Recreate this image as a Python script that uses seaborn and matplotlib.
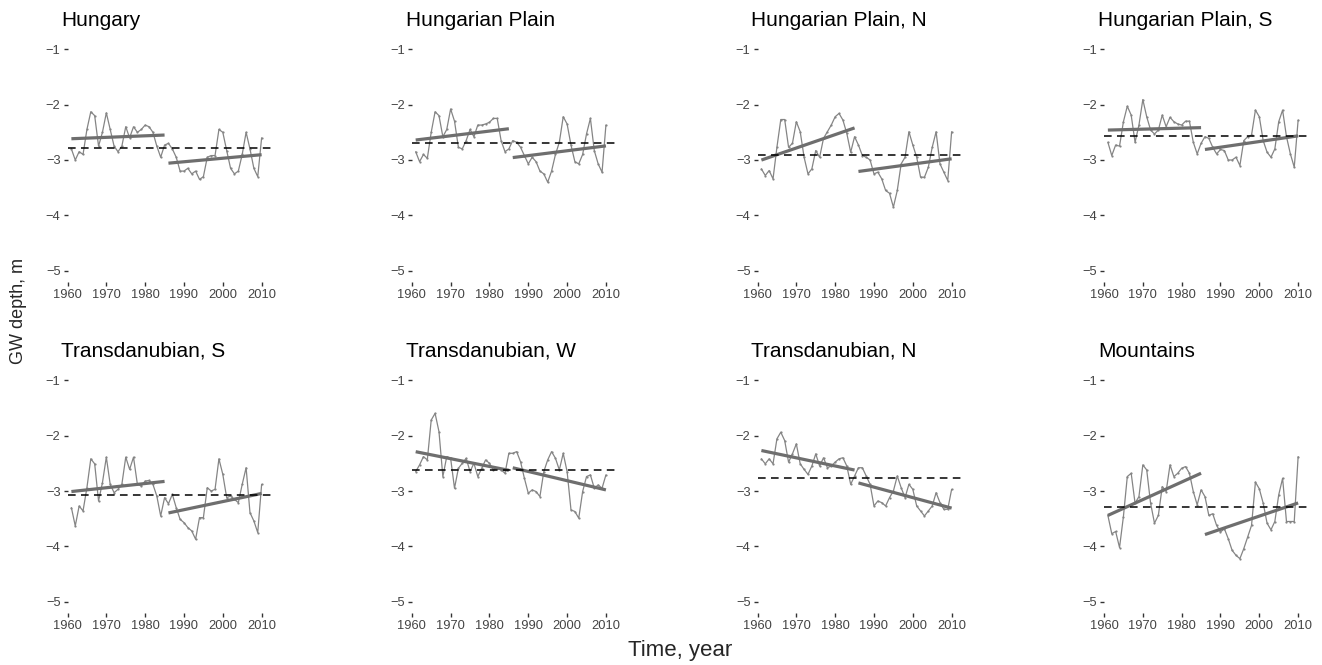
import matplotlib
matplotlib.use("Agg")
import matplotlib.pyplot as plt
import numpy as np
import pandas as pd
import seaborn as sns

# ---------------- data ----------------
years = list(range(1961, 2011))

regions = ["Hungary", "Hungarian Plain", "Hungarian Plain, N", "Hungarian Plain, S",
           "Transdanubian, S", "Transdanubian, W", "Transdanubian, N", "Mountains"]

hungary = [-2.80, -3.00, -2.85, -2.90, -2.45, -2.13, -2.20, -2.75, -2.50, -2.15,
           -2.45, -2.75, -2.85, -2.75, -2.40, -2.60, -2.40, -2.50, -2.45, -2.37,
           -2.40, -2.50, -2.75, -2.95, -2.73, -2.70, -2.80, -2.95, -3.20, -3.20,
           -3.15, -3.25, -3.20, -3.35, -3.30, -2.95, -2.92, -2.92, -2.45, -2.50,
           -2.83, -3.15, -3.25, -3.20, -2.90, -2.50, -2.80, -3.15, -3.30, -2.60]

hungarian_plain = [-2.85, -3.03, -2.90, -2.97, -2.50, -2.13, -2.20, -2.58, -2.45, -2.08,
                   -2.30, -2.77, -2.80, -2.65, -2.45, -2.58, -2.37, -2.37, -2.35, -2.32,
                   -2.25, -2.25, -2.65, -2.85, -2.80, -2.65, -2.68, -2.77, -2.92, -3.07,
                   -2.95, -3.03, -3.20, -3.25, -3.40, -3.20, -2.90, -2.68, -2.22, -2.35,
                   -2.73, -3.03, -3.07, -2.90, -2.53, -2.25, -2.83, -3.07, -3.22, -2.37]

hungarian_plain_n = [-3.16, -3.28, -3.19, -3.34, -2.77, -2.27, -2.27, -2.77, -2.70, -2.31,
                     -2.49, -2.95, -3.25, -3.16, -2.83, -2.95, -2.61, -2.49, -2.37, -2.22,
                     -2.16, -2.28, -2.52, -2.86, -2.58, -2.73, -2.92, -2.95, -3.00, -3.25,
                     -3.22, -3.34, -3.55, -3.60, -3.85, -3.55, -3.07, -2.95, -2.49, -2.73,
                     -2.95, -3.31, -3.31, -3.13, -2.77, -2.49, -3.07, -3.22, -3.37, -2.49]

hungarian_plain_s = [-2.68, -2.92, -2.73, -2.75, -2.31, -2.03, -2.19, -2.68, -2.37, -1.91,
                     -2.22, -2.46, -2.53, -2.46, -2.19, -2.40, -2.23, -2.31, -2.35, -2.37,
                     -2.30, -2.30, -2.68, -2.89, -2.70, -2.58, -2.61, -2.77, -2.89, -2.81,
                     -2.83, -3.00, -3.00, -2.95, -3.10, -2.65, -2.58, -2.55, -2.10, -2.22,
                     -2.65, -2.86, -2.95, -2.80, -2.31, -2.10, -2.58, -2.89, -3.13, -2.28]

transdanubian_s = [-3.30, -3.63, -3.27, -3.36, -2.94, -2.42, -2.51, -3.18, -2.85, -2.39,
                   -2.88, -3.03, -2.97, -2.88, -2.39, -2.61, -2.39, -2.88, -2.91, -2.82,
                   -2.81, -2.88, -3.09, -3.45, -3.12, -3.23, -3.06, -3.30, -3.51, -3.57,
                   -3.66, -3.72, -3.87, -3.48, -3.48, -2.94, -3.00, -2.97, -2.42, -2.70,
                   -3.12, -3.09, -3.15, -3.21, -2.88, -2.58, -3.39, -3.54, -3.75, -2.88]

transdanubian_w = [-2.65, -2.53, -2.38, -2.44, -1.72, -1.60, -1.93, -2.74, -2.38, -2.41,
                   -2.95, -2.59, -2.50, -2.41, -2.65, -2.50, -2.74, -2.59, -2.44, -2.50,
                   -2.62, -2.59, -2.62, -2.68, -2.32, -2.32, -2.29, -2.47, -2.77, -3.04,
                   -2.98, -3.01, -3.10, -2.65, -2.44, -2.29, -2.41, -2.62, -2.32, -2.65,
                   -3.34, -3.37, -3.49, -3.01, -2.74, -2.71, -2.95, -2.89, -2.95, -2.71]

transdanubian_n = [-2.42, -2.51, -2.42, -2.51, -2.06, -1.94, -2.09, -2.48, -2.33, -2.15,
                   -2.51, -2.61, -2.70, -2.55, -2.33, -2.55, -2.40, -2.58, -2.55, -2.48,
                   -2.42, -2.40, -2.55, -2.88, -2.73, -2.58, -2.58, -2.73, -2.88, -3.27,
                   -3.18, -3.21, -3.27, -3.12, -3.00, -2.73, -2.94, -3.12, -2.88, -2.97,
                   -3.27, -3.36, -3.45, -3.36, -3.27, -3.03, -3.21, -3.33, -3.33, -2.97]

mountains = [-3.44, -3.77, -3.73, -4.02, -3.46, -2.74, -2.68, -3.22, -3.10, -2.53,
             -2.62, -3.22, -3.58, -3.44, -2.92, -3.01, -2.53, -2.74, -2.68, -2.59,
             -2.56, -2.68, -3.01, -3.25, -2.98, -3.10, -3.44, -3.41, -3.62, -3.74,
             -3.68, -3.86, -4.07, -4.16, -4.22, -4.04, -3.83, -3.62, -2.84, -2.96,
             -3.22, -3.58, -3.70, -3.55, -3.07, -2.77, -3.55, -3.55, -3.55, -2.38]

periods = [(1961, 1985), (1986, 2010)]
x_ticks = [1960, 1970, 1980, 1990, 2000, 2010]
y_ticks = [-5, -4, -3, -2, -1]

all_series = [hungary, hungarian_plain, hungarian_plain_n, hungarian_plain_s,
              transdanubian_s, transdanubian_w, transdanubian_n, mountains]

df = pd.concat(
    [pd.DataFrame({"region": name, "year": years, "depth": vals})
     for name, vals in zip(regions, all_series)],
    ignore_index=True,
)

# ---------------- style ----------------
sns.set_theme(style="white")
plt.rcParams["font.family"] = ["Liberation Sans", "DejaVu Sans"]

W, H = 1322, 665
fig = plt.figure(figsize=(W / 100, H / 100), dpi=100)
fig.patch.set_facecolor("white")

lefts = [67.5, 411.8, 757.5, 1104.0]
panel_w = 205.0
rows = [(38.0, 282.0), (369.0, 613.0)]

for i, name in enumerate(regions):
    r, c = divmod(i, 4)
    top, bot = rows[r]
    ax = fig.add_axes([lefts[c] / W, 1 - bot / H, panel_w / W, (bot - top) / H])
    ax.set_facecolor("white")
    sub = df[df["region"] == name]

    sns.lineplot(data=sub, x="year", y="depth", ax=ax, estimator=None,
                 color="#858585", lw=0.9, marker="o", markersize=1.6,
                 markeredgewidth=0, zorder=2)
    for lo, hi in periods:
        seg = sub[(sub["year"] >= lo) & (sub["year"] <= hi)]
        sns.regplot(data=seg, x="year", y="depth", ax=ax, scatter=False, ci=None,
                    line_kws=dict(color="#6e6e6e", lw=2.3, solid_capstyle="butt", zorder=3))
    ax.axhline(sub["depth"].mean(), color="black", lw=1.1,
               ls=(0, (5, 3.5)), zorder=4)

    ax.set_xlim(1960.2, 2012.8)
    ax.set_ylim(-5.2, -0.8)
    ax.set_xticks(x_ticks)
    ax.set_yticks(y_ticks)
    ax.set_xlabel("")
    ax.set_ylabel("")
    ax.tick_params(axis="both", which="major", length=3, width=1,
                   color="#333333", labelsize=9.3, labelcolor="#444444", pad=2,
                   bottom=True, left=True)
    sns.despine(ax=ax, left=True, bottom=True)
    ax.grid(False)
    ax.text(-0.03, 1.05, name, transform=ax.transAxes, fontsize=15,
            ha="left", va="baseline", color="black")

fig.text(680 / W, 1 - 656 / H, "Time, year", ha="center", va="baseline", fontsize=16)
fig.text(19 / W, 1 - 311 / H, "GW depth, m", rotation=90, ha="center",
         va="center", fontsize=13)

fig.savefig("out.png", dpi=100, facecolor="white")
